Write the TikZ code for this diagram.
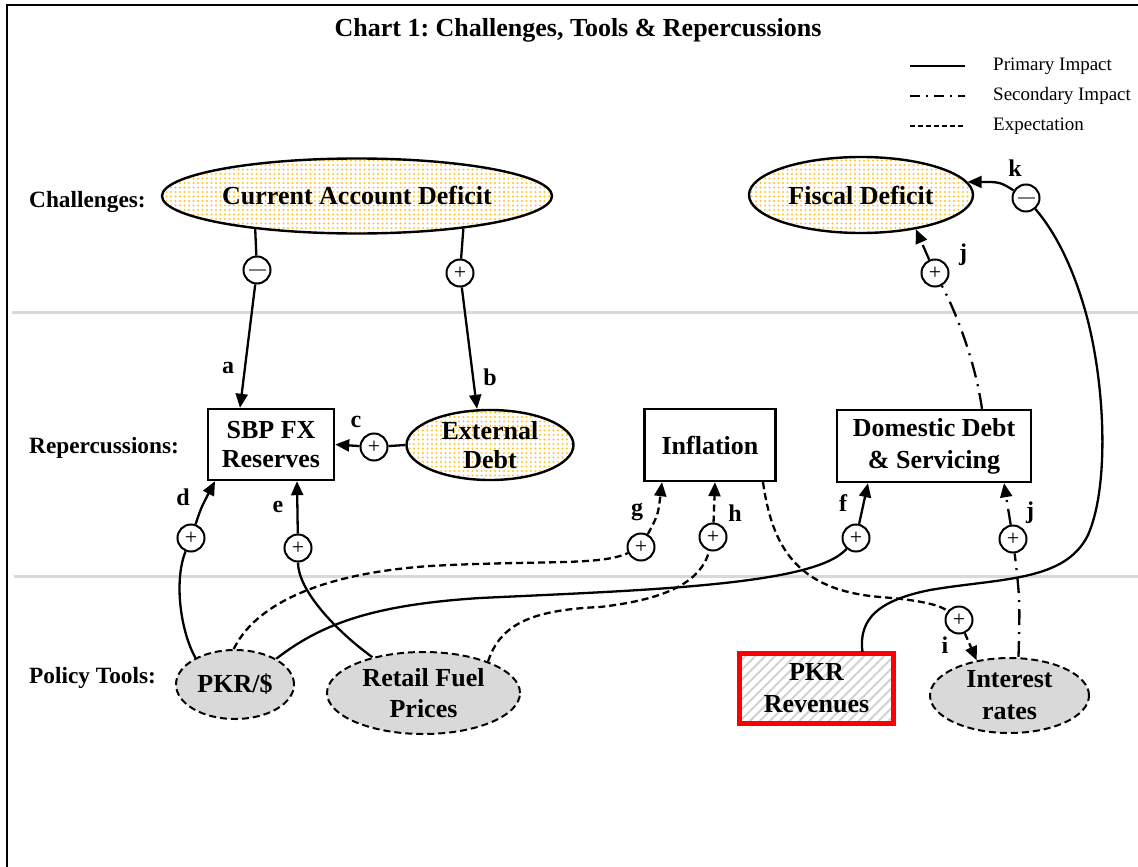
\documentclass[tikz,border=0pt]{standalone}
\usepackage{fontspec}
\setmainfont{Liberation Serif}
\usetikzlibrary{arrows.meta,shapes.geometric,patterns.meta}
\definecolor{dotc}{RGB}{255,196,40}
\definecolor{pkrred}{RGB}{255,0,0}
\definecolor{sepgray}{RGB}{217,217,217}
\frenchspacing
\tikzset{
  conn/.style={line width=2.3pt},
  arr/.style={conn,-{Triangle[length=14pt,width=12pt]}},
  expect/.style={dash pattern=on 7pt off 4pt},
  second/.style={dash pattern=on 16pt off 7pt on 2pt off 7pt},
  sign/.style={circle,draw,line width=2pt,minimum size=27pt,inner sep=0pt,fill=white,font=\fontsize{22}{22}\selectfont},
  lbl/.style={font=\bfseries\fontsize{24}{24}\selectfont,inner sep=0pt},
  rowlbl/.style={font=\bfseries\fontsize{23.3}{28}\selectfont,inner sep=0pt,anchor=west},
  legtxt/.style={font=\fontsize{19}{22}\selectfont,inner sep=0pt,anchor=west},
  nodetxt/.style={font=\bfseries\fontsize{26}{30}\selectfont,align=center,inner sep=0pt},
  boxn/.style={nodetxt,draw,line width=2.4pt},
  chall/.style={nodetxt,ellipse,draw,line width=2.4pt,preaction={fill=white},
    pattern={Dots[distance=4.5pt,radius=1.1pt]},pattern color=dotc},
  tool/.style={nodetxt,ellipse,draw,line width=2pt,dash pattern=on 7pt off 4pt,fill=sepgray},
  revbox/.style={nodetxt,draw=pkrred,line width=5pt,preaction={fill=white},
    pattern={Lines[angle=45,distance=7pt,line width=2pt]},pattern color=gray!35}
}
\begin{document}
\begin{tikzpicture}[x=1pt,y=-1pt]
\useasboundingbox (0,0) rectangle (1138,867);
% frame and separators
\draw[line width=2.4pt] (7,880) -- (7,5) -- (1150,5);
\draw[sepgray,line width=3pt] (12,312) -- (1138,312);
\draw[sepgray,line width=3pt] (14,576) -- (1138,576);

% title and legend
\node[font=\bfseries\fontsize{26}{30}\selectfont,inner sep=0pt] (title) at (578,30) {Chart 1: Challenges, Tools \& Repercussions};
\node[legtxt] (lg1) at (993,66) {Primary Impact};
\node[legtxt] (lg2) at (993,96) {Secondary Impact};
\node[legtxt] (lg3) at (993,126) {Expectation};
\draw[conn] ([xshift=-83pt]lg1.west) -- ([xshift=-28pt]lg1.west);
\draw[conn,second,dash pattern=on 10pt off 6pt on 2pt off 6pt] ([xshift=-83pt]lg2.west) -- ([xshift=-28pt]lg2.west);
\draw[conn,expect,dash pattern=on 5pt off 3pt] ([xshift=-83pt]lg3.west) -- ([xshift=-28pt]lg3.west);

% row labels
\node[rowlbl] (rl1) at (29,202) {Challenges:};
\node[rowlbl] (rl2) at (29,448) {Repercussions:};
\node[rowlbl] (rl3) at (29,678) {Policy Tools:};

% main nodes
\node[chall,minimum width=390pt,minimum height=75pt] (cad) at (357,196) {Current Account Deficit};
\node[chall,minimum width=224pt,minimum height=76pt] (fd) at (861,195) {Fiscal Deficit};
\node[boxn,minimum width=126pt,minimum height=71pt,font=\bfseries\fontsize{26}{29}\selectfont] (sbp) at (271,444.5) {SBP FX\\Reserves};
\node[chall,minimum width=167pt,minimum height=70pt,font=\bfseries\fontsize{26}{29}\selectfont] (ed) at (490,445) {External\\Debt};
\node[boxn,minimum width=131pt,minimum height=72pt] (infl) at (710,445) {Inflation};
\node[boxn,minimum width=194pt,minimum height=72pt,font=\bfseries\fontsize{26}{32}\selectfont] (dd) at (934,446) {Domestic Debt\\\& Servicing};
\node[tool,minimum width=118pt,minimum height=69pt] (pkr) at (235,684.5) {PKR/\$};
\node[tool,minimum width=193pt,minimum height=82pt,font=\bfseries\fontsize{26}{31}\selectfont] (rfp) at (423.5,693) {Retail Fuel\\Prices};
\node[revbox,minimum width=154pt,minimum height=70pt,font=\bfseries\fontsize{26}{32}\selectfont] (pkrr) at (816.5,688) {PKR\\Revenues};
\node[tool,minimum width=159pt,minimum height=75pt,font=\bfseries\fontsize{26}{32}\selectfont] (ir) at (1009.5,695.5) {Interest\\rates};

% sign nodes
\node[sign] (ma) at (257,270) {\color{gray}\rule{17pt}{1.6pt}};
\node[sign] (pb) at (460,273) {+};
\node[sign] (pc) at (374,447) {+};
\node[sign] (pd) at (191,538) {+};
\node[sign] (pe) at (298,548) {+};
\node[sign] (pf) at (856,538) {+};
\node[sign] (pg) at (641,547) {+};
\node[sign] (ph) at (713,537) {+};
\node[sign] (pi) at (959,620) {+};
\node[sign] (pjb) at (1013,539) {+};
\node[sign] (pja) at (935,273) {+};
\node[sign] (mk) at (1026,198) {\color{gray}\rule{17pt}{1.6pt}};

% letter labels
\node[lbl] (la) at (228,368) {a};
\node[lbl] (lb) at (490,377) {b};
\node[lbl] (lc) at (356,422) {c};
\node[lbl] (ld) at (183,497) {d};
\node[lbl] (le) at (278,507) {e};
\node[lbl] (lf) at (843,503) {f};
\node[lbl] (lgg) at (637,512) {g};
\node[lbl] (lh) at (735,513) {h};
\node[lbl] (li) at (945,645) {i};
\node[lbl] (ljb) at (1030,513) {j};
\node[lbl] (lja) at (963,255) {j};
\node[lbl] (lk) at (1015,168) {k};

% connectors
\draw[conn] (cad.198) -- (ma);
\draw[arr] (ma) -- ([xshift=-31pt]sbp.north);
\draw[conn] (cad.-17.6) -- (pb);
\draw[arr] (pb) -- ([xshift=-13pt]ed.north);
\draw[conn] (ed.west) -- (pc);
\draw[arr] (pc) -- (sbp.east);
% d
\draw[conn] (pkr.146) .. controls (180,630) and (174,580) .. (pd);
\draw[arr] (pd) .. controls (201,508) .. ([xshift=-56pt]sbp.south);
% e
\draw[conn] (rfp.145) .. controls (335,630) and (298,590) .. (pe);
\draw[arr] (pe) -- ([xshift=26pt]sbp.south);
% f
\draw[conn] (pkr.32) .. controls (320,625) and (370,605) .. (480,598) .. controls (650,590) and (815,585) .. (pf);
\draw[arr] (pf) -- ([xshift=-66pt]dd.south);
% g
\draw[conn,expect] (pkr.92) .. controls (250,615) and (300,575) .. (430,566) .. controls (540,560) and (600,566) .. (pg);
\draw[arr,expect] (pg) .. controls (658,515) .. ([xshift=-48pt]infl.south);
% h
\draw[conn,expect] (rfp.26) .. controls (500,625) and (530,610) .. (600,607) .. controls (660,600) and (700,585) .. (ph);
\draw[arr,expect] (ph) -- ([xshift=5pt]infl.south);
% i
\draw[conn,expect] ([xshift=53pt]infl.south) .. controls (772,545) and (795,590) .. (880,597) .. controls (920,600) and (940,605) .. (pi);
\draw[arr,expect] (pi) -- (ir.133);
% j (lower)
\draw[conn,second] ([xshift=9pt]ir.north) .. controls (1020,600) .. (pjb);
\draw[arr,second] (pjb) -- ([xshift=70pt]dd.south);
% j (upper)
\draw[conn,second] ([xshift=48pt]dd.north) .. controls (975,360) and (955,310) .. (pja);
\draw[arr,second] (pja) -- (fd.-32);
% k
\draw[conn] ([xshift=46pt]pkrr.north) .. controls (858,618) and (880,600) .. (930,590) .. controls (1000,578) and (1065,582) .. (1088,535) .. controls (1110,485) and (1105,380) .. (1085,310) .. controls (1072,265) and (1055,232) .. (mk);
\draw[arr] (mk) .. controls (1000,182) .. (fd.7);
\end{tikzpicture}
\end{document}
